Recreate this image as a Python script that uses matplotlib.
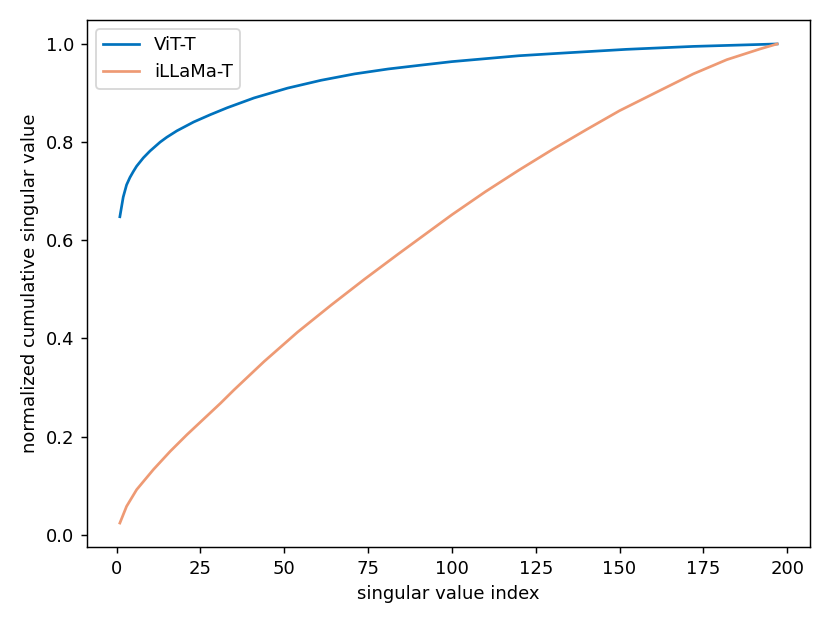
import matplotlib
matplotlib.use("Agg")
import matplotlib.pyplot as plt

vit_x = [1, 2, 3, 4, 5, 6, 8, 10, 13, 15, 18, 23, 28, 33, 41, 51, 61, 71, 81, 91, 100, 110, 120,
         132, 152, 172, 197]
vit_y = [0.648, 0.688, 0.713, 0.728, 0.740, 0.751, 0.768, 0.782, 0.800, 0.810, 0.823, 0.841, 0.856,
         0.870, 0.890, 0.910, 0.926, 0.939, 0.949, 0.957, 0.964, 0.970, 0.976, 0.981, 0.989,
         0.995, 1.0]

illama_x = [1, 3, 6, 11, 16, 21, 26, 31, 35, 44, 54, 64, 74, 84, 92, 100, 110, 120, 130, 140, 150,
            162, 172, 182, 192, 197]
illama_y = [0.024, 0.058, 0.092, 0.133, 0.170, 0.204, 0.236, 0.268, 0.295, 0.353, 0.413, 0.468,
            0.521, 0.572, 0.612, 0.652, 0.699, 0.743, 0.785, 0.825, 0.864, 0.905, 0.939, 0.968,
            0.990, 1.0]

fig = plt.figure(figsize=(830 / 130, 623 / 130), dpi=130)
ax = fig.add_axes([87 / 830, 1 - 547 / 623, (810 - 87) / 830, (547 - 20) / 623])
ax.plot(vit_x, vit_y, color="#0072BD", label="ViT-T")
ax.plot(illama_x, illama_y, color="#EE9A74", label="iLLaMa-T")
ax.set_xlabel("singular value index")
ax.set_ylabel("normalized cumulative singular value")
ax.set_xticks([0, 25, 50, 75, 100, 125, 150, 175, 200])
ax.legend(loc="upper left")
fig.savefig("out.png", dpi=130)
